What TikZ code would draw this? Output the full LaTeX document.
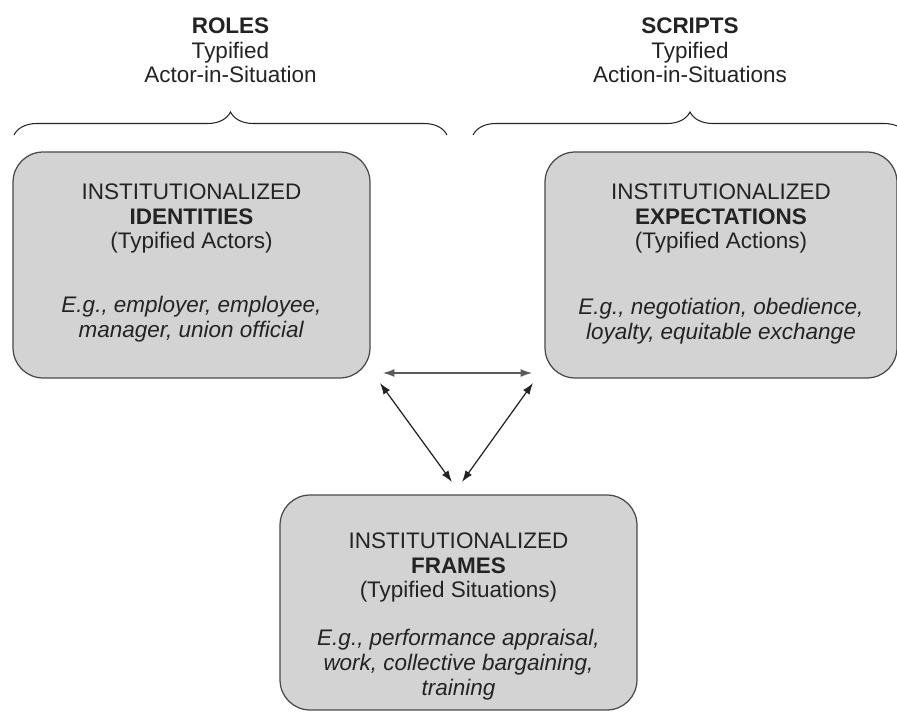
\documentclass[tikz,border=0pt]{standalone}
\usepackage{fontspec}
\setmainfont{Liberation Sans}
\usetikzlibrary{decorations.pathreplacing,arrows.meta,positioning}
\definecolor{boxgray}{HTML}{D3D3D3}
\definecolor{edgegray}{HTML}{484848}
\definecolor{inkgray}{HTML}{232323}
\definecolor{lightink}{HTML}{5A5A5A}
\tikzset{
  instbox/.style={draw=edgegray, line width=0.7pt, fill=boxgray, rounded corners=0.6cm, minimum height=4.52cm, inner sep=0pt},
  boxtext/.style={align=center, inner sep=0pt, text=inkgray, font=\fontsize{12.8}{14.2}\selectfont},
  link/.style={{Latex[length=6.5pt,width=4.5pt]}-{Latex[length=6.5pt,width=4.5pt]}, line width=0.7pt, draw=inkgray},
  bracket/.style={decorate, decoration={brace, amplitude=0.46cm}, line width=0.6pt, draw=inkgray}
}

\begin{document}
\begin{tikzpicture}[x=0.02cm, y=-0.02cm]
			\useasboundingbox (0,0) rectangle (897,716);
			% titles and braces
			\node[boxtext, anchor=north] (rolestxt) at (230.5,17) {\textbf{ROLES}\\Typified\\Actor-in-Situation};
			\node[boxtext, anchor=north] (scriptstxt) at (690,17) {\textbf{SCRIPTS}\\Typified\\Action-in-Situations};
			\coordinate (rolesL) at (14,135);
			\coordinate (rolesR) at (447,135);
			\coordinate (scriptsL) at (473,135);
			\coordinate (scriptsR) at (907,135);
			\draw[bracket] (rolesL)--(rolesR);
			\draw[bracket] (scriptsL)--(scriptsR);
			% boxes
			\node[instbox, minimum width=7.14cm] (idbox) at (191.5,265) {};
			\node[instbox, minimum width=7.04cm] (expbox) at (721,265) {};
			\node[instbox, minimum width=7.14cm, minimum height=4.3cm] (frbox) at (458.5,602.5) {};
			\node[boxtext, anchor=north] (idtxt) at (191.5,183) {INSTITUTIONALIZED\\\textbf{IDENTITIES}\\(Typified Actors)\\[22pt]\textit{E.g., employer, employee,}\\\textit{manager, union official}};
			\node[boxtext, anchor=north] (exptxt) at (721,183) {INSTITUTIONALIZED\\\textbf{EXPECTATIONS}\\(Typified Actions)\\[23pt]\textit{E.g., negotiation, obedience,}\\\textit{loyalty, equitable exchange}};
			\node[boxtext, anchor=north] (frtxt) at (458.5,532) {INSTITUTIONALIZED\\\textbf{FRAMES}\\(Typified Situations)\\[13pt]\textit{E.g., performance appraisal,}\\\textit{work, collective bargaining,}\\\textit{training}};
			% arrows
			\coordinate (ha) at (383,373);
			\coordinate (hb) at (532,373);
			\coordinate (la) at (380,383);
			\coordinate (lb) at (452,482);
			\coordinate (ra) at (533,383);
			\coordinate (rb) at (462,482);
			\draw[link, draw=lightink, line width=0.6pt] (ha)--(hb);
			\draw[link] (la)--(lb);
			\draw[link] (ra)--(rb);
		\end{tikzpicture}
\end{document}
